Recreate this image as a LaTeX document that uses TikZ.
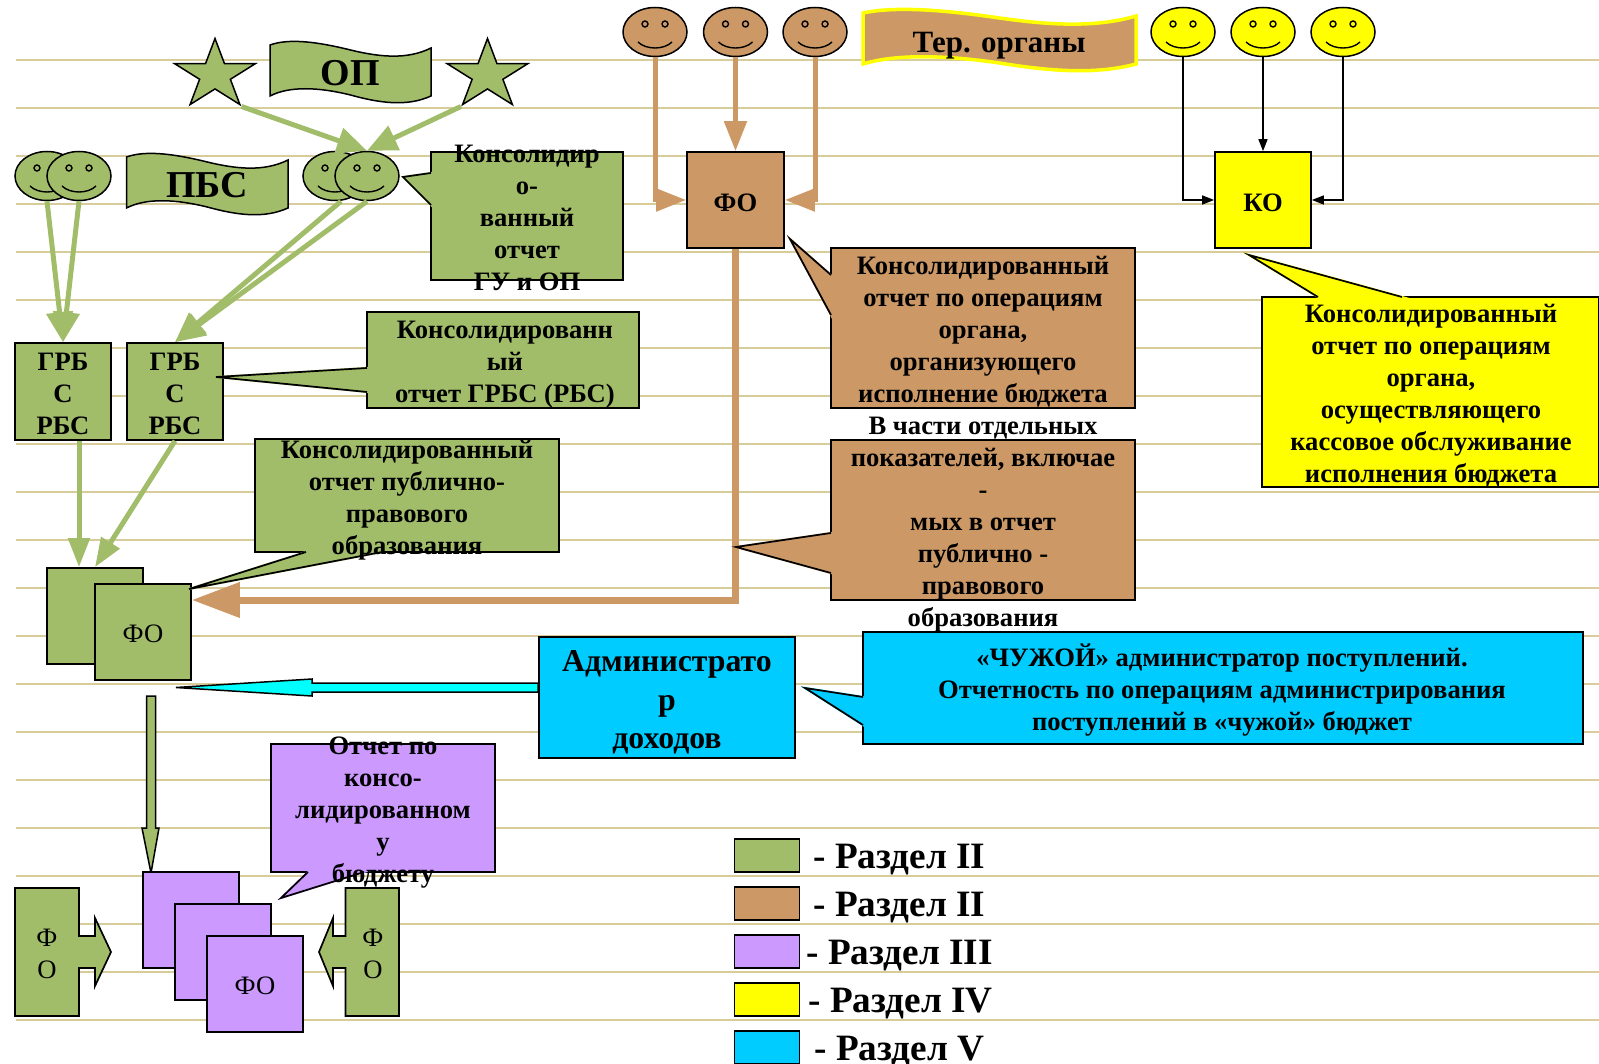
\documentclass[tikz,border=0pt]{standalone}
\usepackage{fontspec}
\setmainfont{Liberation Serif}
\usepackage{tikz}
\usetikzlibrary{arrows.meta,shapes.geometric}

\definecolor{grn}{HTML}{A2BD6A}
\definecolor{brn}{HTML}{CC9966}
\definecolor{lil}{HTML}{CC99FF}
\definecolor{yel}{HTML}{FFFF00}
\definecolor{blu}{HTML}{00CCFF}
\definecolor{aqu}{HTML}{00FFFF}
\definecolor{rul}{HTML}{D8CC9A}

\tikzset{
box/.style 2 args={rectangle,draw,line width=1.7,minimum width=#1,minimum height=#2,inner sep=0},
lbl/.style={font=\fontsize{26.6}{32}\selectfont\bfseries,align=center,inner sep=0,yshift=-2.5},
plain/.style={font=\fontsize{26.6}{32}\selectfont,align=center,inner sep=0,yshift=-1.5},
big/.style={font=\fontsize{38}{44}\selectfont\bfseries,inner sep=0},
legend/.style={font=\fontsize{37.2}{40}\selectfont\bfseries,anchor=west,inner sep=0,yshift=-4.5},
face/.style={ellipse,draw,line width=1.5,minimum width=64,minimum height=49,inner sep=0},
starbox/.style={star,star points=5,star point ratio=2.618,draw,line width=1.5,fill=grn,minimum size=73,inner sep=0,xscale=1.16,transform shape},
grnline/.style={grn,line width=5,-{Triangle[length=30pt,width=26pt]}},
brnline/.style={brn,line width=5,-{Triangle[length=30pt,width=22pt]}},
blkline/.style={line width=1.5,-{Triangle[length=12pt,width=9pt]}}
}

\newcommand{\smiley}[4]{
\node[face,fill=#4] (#1) at (#2,#3) {};
\draw[line width=1.4] (#1.center) ++(-10,-8) circle (3) ++(20,0) circle (3);
\draw[line width=1.4] (#1.center) ++(-17,10) .. controls +(8,8) and +(-8,8) .. +(34,0);
}
\newcommand{\wave}[4]{
\draw[#4,shift={(#1,#2)},xscale=#3] (0,5) .. controls (12,-2) and (30,2) .. (50,10) .. controls (68,17) and (85,20) .. (100,8) -- (100,56) .. controls (85,67) and (68,63) .. (50,55) .. controls (30,47) and (12,46) .. (0,56) -- cycle;
}
\newcommand{\tail}[4]{
\filldraw[#1,line width=2] #2 -- #3 -- #4 -- cycle;
\draw[line width=1.7] #2 -- #3 -- #4;
}

\begin{document}
\begin{tikzpicture}[x=1pt,y=-1pt]
\useasboundingbox (0,0) rectangle (1599,1064);

\foreach \i in {0,...,20} {
\pgfmathsetmacro{\yy}{60.3+48*\i}
\draw[rul,line width=2] (16,\yy) -- (1599,\yy);
}

\begin{scope}[shift={(215,75)}]
\node[starbox] (starl) at (0,0) {};
\end{scope}
\begin{scope}[shift={(487.5,75)}]
\node[starbox] (starr) at (0,0) {};
\end{scope}

\wave{270}{40}{1.61}{draw,line width=1.5,fill=grn}
\node[big] (op) at (350.5,73) {ОП};
\wave{126.5}{152}{1.615}{draw,line width=1.5,fill=grn}
\node[big] (pbs) at (207,185) {ПБС};
\wave{863}{8}{2.73}{draw=yel,line width=3.5,fill=brn}
\node[lbl,font=\fontsize{31}{32}\selectfont\bfseries,yshift=-2] (ter) at (999,41) {Тер. органы};

\smiley{pl}{47}{176}{grn}
\smiley{pm}{79}{176}{grn}
\smiley{gl}{335}{176}{grn}
\smiley{gm}{367}{176}{grn}
\foreach \n/\x in {b1/655,b2/735.5,b3/815} {
\smiley{\n}{\x}{32}{brn}
}
\foreach \n/\x in {y1/1183,y2/1263,y3/1343} {
\smiley{\n}{\x}{32}{yel}
}

\node[box={96}{97},fill=grn] (grba) at (63,391.5) {};
\node[lbl] (grbat) at (grba) {ГРБ\\С\\РБС};
\node[box={96}{97},fill=grn] (grbb) at (175,391.5) {};
\node[lbl] (grbbt) at (grbb) {ГРБ\\С\\РБС};
\node[box={97}{96},fill=brn] (fo) at (735.5,200) {};
\node[lbl] (fot) at (fo) {ФО};
\node[box={96}{96},fill=yel] (ko) at (1263,200) {};
\node[lbl] (kot) at (ko) {КО};

\draw[grnline] (starl.outer point 4) -- (gm.north);
\draw[grnline] (starr.outer point 3) -- (gm.north);
\draw[grnline] (pl.south) -- (grba.north);
\draw[grnline] (pm.south) -- (grba.north);
\draw[grnline] ([xshift=6]gl.south) -- (grbb.north);
\draw[grnline] (gm.south) -- (grbb.north);

\draw[brnline] (b1.south) |- (fo.west);
\draw[brnline] (b2.south) -- (fo.north);
\draw[brnline] (b3.south) |- (fo.east);

\draw[blkline] (y1.south) |- (ko.west);
\draw[blkline] (y2.south) -- (ko.north);
\draw[blkline] (y3.south) |- (ko.east);

\node[box={96}{96},fill=grn] (fob) at (95,616) {};
\node[box={96}{96},fill=grn] (fof) at (143,632) {};
\node[plain] (foft) at (fof) {ФО};
\draw[grn,line width=5,-{Triangle[length=29pt,width=21pt]}] ([xshift=16]grba.south) -- ([xshift=-16]fob.north);
\draw[grn,line width=5,-{Triangle[length=29pt,width=21pt]}] (grbb.south) -- (fob.north);
\draw[brn,line width=7,-{Triangle[length=48pt,width=34pt]}] (fo.south) |- ([yshift=32]fof.east);

\node[box={192}{128},fill=grn] (gu) at (527,216) {};
\tail{grn}{(431,173)}{(403,177)}{(431,205)}
\node[lbl] (gut) at (527,215) {Консолидир\\о-\\ванный\\отчет\\ГУ и ОП};

\node[box={272}{96},fill=grn] (grbs) at (503,360) {};
\tail{grn}{(367,368)}{(216,377)}{(367,392)}
\node[lbl] (grbst) at (505,362) {Консолидированн\\ый\\отчет ГРБС (РБС)};

\node[box={304}{113},fill=grn] (pub) at (407,495.5) {};
\tail{grn}{(306,552)}{(189,589)}{(382,552)}
\node[lbl] (pubt) at (407,498) {Консолидированный\\отчет публично-\\правового\\образования};

\node[box={304}{160},fill=brn] (bra) at (983,328) {};
\tail{brn}{(831,275)}{(790,239)}{(831,315)}
\node[lbl] (brat) at (983,329) {Консолидированный\\отчет по операциям\\органа,\\организующего\\исполнение бюджета};

\node[box={304}{160},fill=brn] (brb) at (983,520) {};
\tail{brn}{(831,533)}{(736,547)}{(831,573)}
\node[lbl] (brbt) at (983,522) {В части отдельных\\показателей, включае\\-\\мых в отчет\\публично -\\правового\\образования};

\node[box={337}{190},fill=yel] (yl) at (1430.5,392) {};
\tail{yel}{(1318,297)}{(1249,255)}{(1402,297)}
\node[lbl] (ylt) at (1431,393) {Консолидированный\\отчет по операциям\\органа,\\осуществляющего\\кассовое обслуживание\\исполнения бюджета};

\draw[line width=1.5,fill=aqu] (538,683) -- (312,683) -- (312,679) -- (176,687.5) -- (312,696) -- (312,692) -- (538,692) -- cycle;
\node[box={256}{121},fill=blu] (adm) at (667,697.5) {};
\node[font=\fontsize{31.8}{38.5}\selectfont\bfseries,align=center,inner sep=0] (admt) at (667,702.5) {Администрато\\р\\доходов};

\node[box={720}{112},fill=blu] (chu) at (1223,688) {};
\tail{blu}{(863,697)}{(805,688)}{(863,725)}
\node[lbl] (chut) at (1222,688) {«ЧУЖОЙ» администратор поступлений.\\Отчетность по операциям администрирования\\поступлений в «чужой» бюджет};

\draw[line width=1.5,fill=grn] (146.5,696) -- (155.5,696) -- (155.5,828) -- (159,828) -- (151,873) -- (142,828) -- (146.5,828) -- cycle;

\node[box={96}{96},fill=lil] (fva) at (191,920) {};
\node[box={96}{96},fill=lil] (fvb) at (223,952) {};
\node[box={96}{96},fill=lil] (fvc) at (255,984) {};
\node[plain] (fvct) at (fvc) {ФО};

\node[box={224}{128},fill=lil] (otc) at (383,808) {};
\tail{lil}{(308,872)}{(281,898)}{(364,872)}
\node[lbl] (otct) at (383,810) {Отчет по\\консо-\\лидированном\\у\\бюджету};

\draw[line width=1.7,fill=grn] (15,888) -- (79,888) -- (79,936) -- (95,936) -- (95,918) -- (111,952) -- (95,986) -- (95,968) -- (79,968) -- (79,1016) -- (15,1016) -- cycle;
\node[plain] (fl) at (47,952.5) {Ф\\О};
\draw[line width=1.7,fill=grn] (399,888) -- (345.5,888) -- (345.5,936) -- (333,936) -- (333,918) -- (319,952) -- (333,986) -- (333,968) -- (345.5,968) -- (345.5,1016) -- (399,1016) -- cycle;
\node[plain] (fr) at (373,952.5) {Ф\\О};

\foreach \n/\c/\y/\d/\t in {la/grn/855.5/13/- Раздел II,lb/brn/903.5/13/- Раздел II,lc/lil/951.5/6/- Раздел III,ld/yel/999.5/8/- Раздел IV,le/blu/1047.5/14/- Раздел V} {
\node[box={65}{33},fill=\c] (\n) at (767,\y) {};
\node[legend] (\n t) at ([xshift=\d]\n.east) {\t};
}
\end{tikzpicture}
\end{document}
